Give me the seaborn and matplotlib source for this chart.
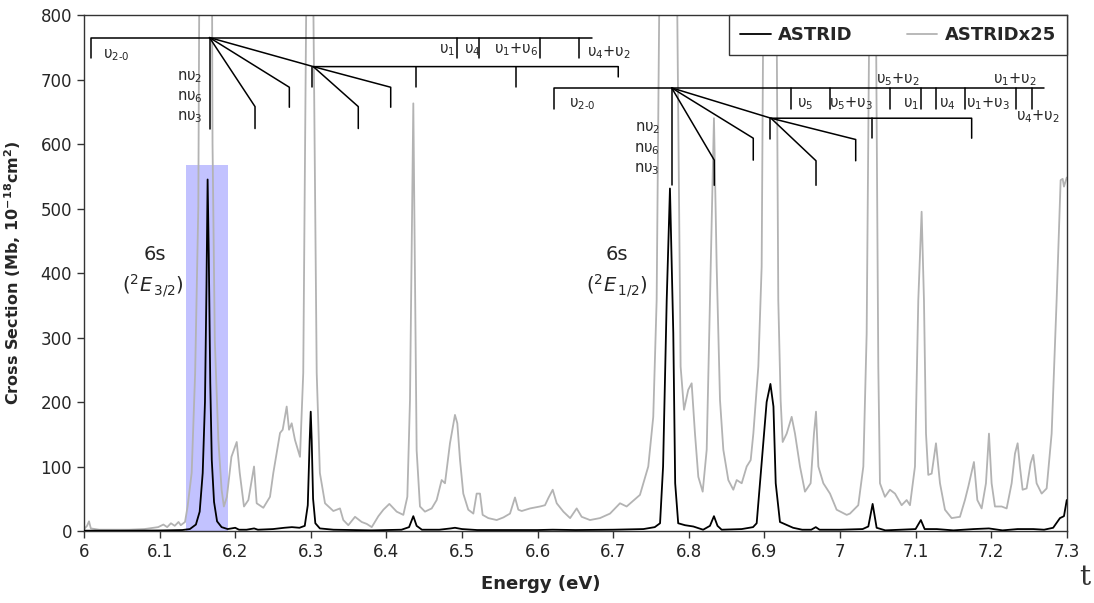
import pandas as pd
import seaborn as sns
import matplotlib
matplotlib.use("Agg")
import matplotlib.pyplot as plt

# ---- spectrum data (energy in eV, cross section in Mb) ----
astrid_e = [6.000, 6.050, 6.100, 6.130, 6.140, 6.148, 6.153, 6.157, 6.160, 6.162,
            6.1635, 6.165, 6.167, 6.169, 6.172, 6.176, 6.182, 6.190, 6.200, 6.205,
            6.215, 6.225, 6.230, 6.250, 6.265, 6.275, 6.285, 6.292, 6.296, 6.2985,
            6.2999, 6.3012, 6.303, 6.306, 6.312, 6.330, 6.380, 6.420, 6.430, 6.4356,
            6.440, 6.447, 6.470, 6.485, 6.4907, 6.500, 6.520, 6.550, 6.600, 6.620,
            6.650, 6.700, 6.740, 6.755, 6.762, 6.766, 6.7708, 6.7751, 6.7795, 6.782,
            6.786, 6.795, 6.806, 6.819, 6.828, 6.8333, 6.838, 6.8435, 6.870, 6.885,
            6.8898, 6.896, 6.903, 6.908, 6.912, 6.915, 6.9206, 6.938, 6.950, 6.962,
            6.968, 6.973, 7.000, 7.030, 7.0375, 7.0432, 7.0485, 7.060, 7.100, 7.107,
            7.112, 7.128, 7.150, 7.177, 7.197, 7.215, 7.235, 7.2557, 7.270, 7.282,
            7.291, 7.2963, 7.300]
astrid_v = [0.5, 0.5, 0.8, 1.5, 3, 10, 30, 90, 200, 380,
            545, 430, 230, 110, 45, 15, 6, 3, 5, 2,
            2, 4, 2, 3, 5, 6, 5, 8, 40, 140,
            185, 140, 50, 12, 4, 2, 1, 2, 6, 23,
            8, 2, 2, 4, 5, 3, 1.5, 1.5, 1.5, 2,
            1.5, 2, 3, 6, 12, 100, 358, 531, 307, 74,
            12, 9, 7, 2, 8, 23, 8, 2, 3, 6,
            12, 100, 200, 228, 193, 74, 14, 5, 2, 2,
            6, 2, 2, 3, 7, 42, 5, 1, 3, 17,
            3, 3, 1, 3, 4, 1, 3, 3, 2, 5,
            20, 23, 48]

astrid25_e = [6.000, 6.004, 6.0066, 6.009, 6.020, 6.040, 6.060, 6.080, 6.098, 6.105,
              6.110, 6.115, 6.120, 6.125, 6.128, 6.1336, 6.137, 6.1424, 6.147, 6.1512,
              6.155, 6.1635, 6.1675, 6.170, 6.173, 6.1777, 6.182, 6.185, 6.189, 6.195,
              6.202, 6.206, 6.2116, 6.2174, 6.2249, 6.2284, 6.2372, 6.246, 6.2504, 6.2593,
              6.2628, 6.2681, 6.2712, 6.2747, 6.2791, 6.2857, 6.290, 6.294, 6.2999, 6.3035,
              6.3078, 6.312, 6.3188, 6.3298, 6.3386, 6.343, 6.3496, 6.3585, 6.3673, 6.374,
              6.3806, 6.3894, 6.396, 6.4039, 6.4136, 6.4224, 6.4277, 6.4312, 6.4356, 6.440,
              6.4444, 6.451, 6.4599, 6.4665, 6.4731, 6.4775, 6.4841, 6.4907, 6.4938, 6.4974,
              6.5017, 6.5083, 6.515, 6.5194, 6.5238, 6.5273, 6.5348, 6.5459, 6.5547, 6.5635,
              6.5701, 6.5745, 6.579, 6.590, 6.6032, 6.6098, 6.6142, 6.620, 6.6253, 6.6341,
              6.643, 6.6517, 6.6583, 6.6693, 6.6825, 6.6958, 6.709, 6.7178, 6.7354, 6.7464,
              6.753, 6.7575, 6.761, 6.7751, 6.7848, 6.7892, 6.7937, 6.7993, 6.8038, 6.8082,
              6.8126, 6.8184, 6.8237, 6.828, 6.8333, 6.8369, 6.8413, 6.8457, 6.8523, 6.8589,
              6.8634, 6.870, 6.8766, 6.8819, 6.8854, 6.892, 6.8964, 6.8986, 6.908, 6.9162,
              6.9184, 6.9215, 6.9242, 6.9295, 6.9361, 6.9405, 6.9471, 6.9537, 6.9612, 6.9656,
              6.9683, 6.9714, 6.978, 6.9868, 6.9956, 7.0089, 7.0132, 7.0242, 7.0309, 7.0353,
              7.0388, 7.0432, 7.0476, 7.0507, 7.0529, 7.0595, 7.0661, 7.0728, 7.0816, 7.0882,
              7.0926, 7.0992, 7.1036, 7.108, 7.1111, 7.1138, 7.1168, 7.1213, 7.127, 7.1323,
              7.1389, 7.1477, 7.1587, 7.1653, 7.1698, 7.1772, 7.1817, 7.1874, 7.1931, 7.1971,
              7.2006, 7.205, 7.2138, 7.2205, 7.2271, 7.2315, 7.235, 7.238, 7.2416, 7.2469,
              7.2522, 7.2557, 7.2601, 7.2668, 7.2734, 7.280, 7.2866, 7.2919, 7.2946, 7.2963,
              7.300]
astrid25_v = [3, 8, 15, 4, 2, 2, 2, 3, 6, 10,
              6, 12, 8, 14, 9, 14, 38, 90, 245, 503,
              1500, 13700, 1500, 600, 296, 141, 64, 38, 53, 115,
              138, 90, 38, 48, 100, 43, 36, 53, 90, 152,
              157, 193, 157, 167, 141, 115, 245, 820, 4600, 800,
              245, 90, 43, 31, 35, 17, 9, 22, 14, 11,
              6, 23, 33, 42, 30, 25, 53, 203, 663, 125,
              38, 30, 35, 48, 79, 74, 136, 180, 167, 110,
              58, 33, 27, 58, 58, 25, 20, 17, 21, 27,
              52, 33, 31, 35, 38, 40, 51, 64, 43, 30,
              20, 35, 22, 17, 20, 27, 43, 38, 56, 100,
              177, 358, 820, 13300, 800, 255, 188, 219, 229, 151,
              84, 61, 126, 358, 640, 410, 203, 126, 79, 64,
              79, 74, 100, 110, 151, 255, 410, 800, 5700, 800,
              358, 203, 138, 151, 177, 151, 100, 61, 74, 151,
              185, 100, 74, 58, 33, 25, 27, 40, 100, 306,
              800, 1050, 800, 255, 74, 53, 64, 58, 40, 48,
              40, 100, 358, 495, 358, 151, 87, 89, 136, 74,
              33, 20, 22, 48, 69, 107, 48, 35, 74, 151,
              74, 38, 38, 35, 74, 120, 136, 100, 64, 66,
              105, 118, 74, 58, 66, 151, 358, 544, 546, 534,
              548]

x_ticks = [6.0, 6.1, 6.2, 6.3, 6.4, 6.5, 6.6, 6.7, 6.8, 6.9, 7.0, 7.1, 7.2, 7.3]
x_tick_labels = ["6", "6.1", "6.2", "6.3", "6.4", "6.5", "6.6", "6.7", "6.8",
                 "6.9", "7", "7.1", "7.2", "7.3"]
y_ticks = [0, 100, 200, 300, 400, 500, 600, 700, 800]

# ---- vibrational assignment combs (polylines in data coords) ----
comb1_lines = [
    [(6.0089, 733), (6.0089, 765), (6.6716, 765)],
    [(6.166, 765), (6.166, 624)],
    [(6.166, 765), (6.2262, 658), (6.2262, 624)],
    [(6.166, 765), (6.2716, 688), (6.2716, 657)],
    [(6.166, 765), (6.3033, 720), (6.7067, 720), (6.7067, 704)],
    [(6.302, 720), (6.302, 688)],
    [(6.3033, 720), (6.3628, 658), (6.3628, 624)],
    [(6.3033, 720), (6.4057, 688), (6.4057, 657)],
    [(6.4388, 720), (6.4388, 688)],
    [(6.571, 720), (6.571, 688)],
]
comb1_ticks = [6.493, 6.5229, 6.6032, 6.6548]

comb2_lines = [
    [(6.6217, 654), (6.6217, 687), (7.2698, 687)],
    [(6.7774, 687), (6.7774, 536)],
    [(6.7774, 687), (6.8337, 575), (6.8337, 536)],
    [(6.7774, 687), (6.8853, 609), (6.8853, 575)],
    [(6.7774, 687), (6.9087, 640), (7.1742, 640), (7.1742, 609)],
    [(6.9074, 640), (6.9074, 608)],
    [(7.0427, 640), (7.0427, 609)],
    [(6.9087, 640), (6.9683, 574), (6.9683, 536)],
    [(6.9087, 640), (7.0208, 607), (7.0208, 574)],
]
comb2_ticks = [6.9348, 6.9868, 7.0661, 7.1071, 7.127, 7.1653, 7.2328, 7.254]

mode_labels = [
    ("υ$_{2\\text{-}0}$", 6.0433, 738, "center"),
    ("nυ$_2$", 6.157, 704, "right"),
    ("nυ$_6$", 6.157, 672, "right"),
    ("nυ$_3$", 6.157, 641, "right"),
    ("υ$_1$", 6.4907, 746, "right"),
    ("υ$_4$", 6.5132, 746, "center"),
    ("υ$_1$+υ$_6$", 6.5721, 746, "center"),
    ("υ$_4$+υ$_2$", 6.6938, 742, "center"),
    ("υ$_{2\\text{-}0}$", 6.6587, 662, "center"),
    ("nυ$_2$", 6.7619, 624, "right"),
    ("nυ$_6$", 6.7619, 592, "right"),
    ("nυ$_3$", 6.7619, 561, "right"),
    ("υ$_5$", 6.9537, 662, "center"),
    ("υ$_5$+υ$_3$", 7.0146, 662, "center"),
    ("υ$_5$+υ$_2$", 7.0767, 700, "center"),
    ("υ$_1$", 7.0939, 662, "center"),
    ("υ$_4$", 7.1415, 662, "center"),
    ("υ$_1$+υ$_3$", 7.1958, 662, "center"),
    ("υ$_1$+υ$_2$", 7.2315, 700, "center"),
    ("υ$_4$+υ$_2$", 7.2619, 642, "center"),
]

state_labels = [
    ("6s", 6.094, 429),
    ("$(^2E_{\\,3/2})$", 6.0915, 381),
    ("6s", 6.705, 429),
    ("$(^2E_{\\,1/2})$", 6.705, 381),
]

sns.set_style("ticks")
plt.rcParams["font.family"] = ["DejaVu Sans"]
plt.rcParams["mathtext.fontset"] = "dejavusans"

fig = plt.figure(figsize=(10.94, 6.03), dpi=100)
ax = fig.add_axes([0.0768, 0.1194, 0.8983, 0.8557])

# highlighted band around the first origin band
ax.axvspan(6.135, 6.191, ymin=0, ymax=567 / 800, color="#c2c2ff", lw=0, zorder=0)

grey_df = pd.DataFrame({"Energy": astrid25_e, "Cross": astrid25_v})
black_df = pd.DataFrame({"Energy": astrid_e, "Cross": astrid_v})
sns.lineplot(data=grey_df, x="Energy", y="Cross", color="#b3b3b3", lw=1.3,
             sort=False, estimator=None, ax=ax, label="ASTRIDx25", zorder=2)
sns.lineplot(data=black_df, x="Energy", y="Cross", color="black", lw=1.3,
             sort=False, estimator=None, ax=ax, label="ASTRID", zorder=3)

for line in comb1_lines + comb2_lines:
    xs, ys = zip(*line)
    ax.plot(xs, ys, color="black", lw=1.1, zorder=4)
for x in comb1_ticks:
    ax.plot([x, x], [765, 733], color="black", lw=1.1, zorder=4)
for x in comb2_ticks:
    ax.plot([x, x], [687, 655], color="black", lw=1.1, zorder=4)

for txt, x, y, ha in mode_labels:
    ax.text(x, y, txt, ha=ha, va="center", fontsize=10.5, zorder=5)
for txt, x, y in state_labels:
    ax.text(x, y, txt, ha="center", va="center", fontsize=14, zorder=5)

ax.set_xlim(6.0, 7.3)
ax.set_ylim(0, 800)
ax.set_xticks(x_ticks)
ax.set_xticklabels(x_tick_labels)
ax.set_yticks(y_ticks)
ax.tick_params(axis="both", labelsize=12, length=5, width=1, color="#333333")
for sp in ax.spines.values():
    sp.set_visible(True)
    sp.set_color("#333333")
    sp.set_linewidth(1)

ax.set_xlabel("Energy (eV)", fontsize=13, fontweight="bold")
ax.set_ylabel("Cross Section (Mb, 10$^{\\mathbf{-18}}$cm$^{\\mathbf{2}}$)",
              fontsize=11.5, fontweight="bold")
ax.xaxis.set_label_coords(0.465, -0.085)
ax.yaxis.set_label_coords(-0.062, 0.5)

handles, labels = ax.get_legend_handles_labels()
order = [labels.index("ASTRID"), labels.index("ASTRIDx25")]
leg = ax.legend([handles[i] for i in order], [labels[i] for i in order],
                loc="upper right", ncol=2, borderaxespad=0, fancybox=False,
                framealpha=1, edgecolor="#333333", handlelength=1.7,
                columnspacing=3.0, handletextpad=0.4, borderpad=0.6,
                prop={"weight": "bold", "size": 13})
leg.get_frame().set_linewidth(1)
leg.set_zorder(10)

fig.text(0.992, 0.02, "t", family="DejaVu Serif", fontsize=20, color="#333333",
         ha="center", va="bottom")

fig.savefig("out.png", dpi=100)
